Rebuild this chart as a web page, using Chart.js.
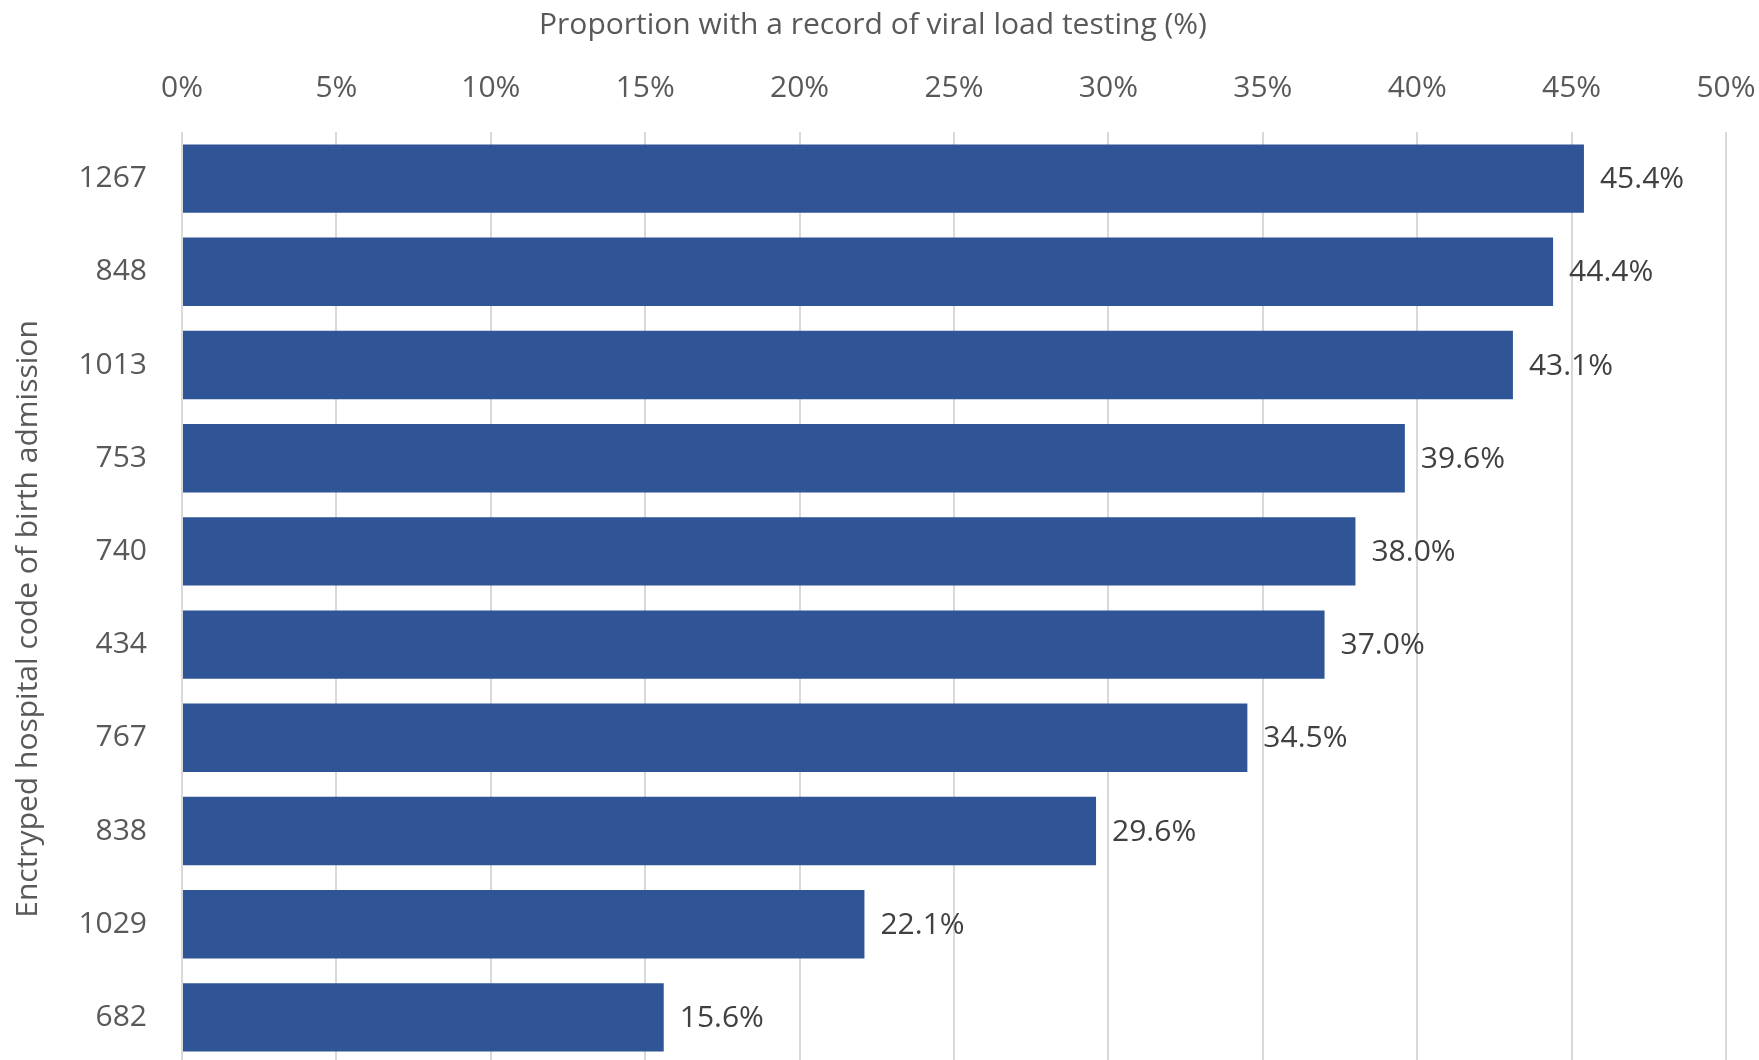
<!DOCTYPE html>
<html>
<head>
<meta charset="utf-8">
<script src="https://cdn.jsdelivr.net/npm/chart.js@4.4.1/dist/chart.umd.min.js"></script>
<style>
  html, body { margin: 0; padding: 0; background: #ffffff; overflow: hidden; }
  #wrap { width: 1759px; height: 1064px; }
</style>
</head>
<body>
<div id="wrap"><canvas id="c" width="1759" height="1064"></canvas></div>
<script>
const hospitalCodes = ['1267', '848', '1013', '753', '740', '434', '767', '838', '1029', '682'];
const viralLoadPct = [45.4, 44.4, 43.1, 39.6, 38.0, 37.0, 34.5, 29.6, 22.1, 15.6];
const xTickValues = [0, 5, 10, 15, 20, 25, 30, 35, 40, 45, 50];
const xTitle = 'Proportion with a record of viral load testing (%)';
const yTitle = 'Enctryped hospital code of birth admission';

const FONT = '"Open Sans", "DejaVu Sans", sans-serif';

const dataLabelPlugin = {
  id: 'dataLabels',
  afterDatasetsDraw(chart) {
    const ctx = chart.ctx;
    const meta = chart.getDatasetMeta(0);
    ctx.save();
    ctx.font = '30px ' + FONT;
    ctx.fillStyle = '#404040';
    ctx.textAlign = 'left';
    ctx.textBaseline = 'middle';
    meta.data.forEach((el, i) => {
      ctx.fillText(viralLoadPct[i].toFixed(1) + '%', el.x + 16, el.y + 1);
    });
    ctx.restore();
  }
};

const axisTitlePlugin = {
  id: 'axisTitles',
  afterDraw(chart) {
    const ctx = chart.ctx;
    ctx.save();
    ctx.fillStyle = '#595959';
    ctx.textAlign = 'center';
    ctx.textBaseline = 'middle';
    ctx.font = '30px ' + FONT;
    ctx.fillText(xTitle, 873, 25);
    ctx.translate(28, 619);
    ctx.rotate(-Math.PI / 2);
    ctx.fillText(yTitle, 0, 0);
    ctx.restore();
  }
};

new Chart(document.getElementById('c'), {
  type: 'bar',
  data: {
    labels: hospitalCodes,
    datasets: [{
      data: viralLoadPct,
      backgroundColor: '#2F5597',
      borderWidth: 0,
      categoryPercentage: 1.0,
      barPercentage: 0.734
    }]
  },
  options: {
    indexAxis: 'y',
    responsive: false,
    animation: false,
    layout: { padding: { left: 0, right: 33, top: 0, bottom: 0 } },
    plugins: { legend: { display: false }, tooltip: { enabled: false } },
    scales: {
      x: {
        position: 'top',
        min: 0,
        max: 50,
        afterBuildTicks(scale) { scale.ticks = xTickValues.map(v => ({ value: v })); },
        afterFit(scale) {
          scale.height = 132;
          scale.paddingLeft = 0; scale.paddingRight = 0;
          scale.paddingTop = 0; scale.paddingBottom = 0;
        },
        ticks: {
          padding: 26,
          color: '#595959',
          font: { family: FONT, size: 30 },
          callback: (v) => v + '%'
        },
        grid: { color: '#D9D9D9', lineWidth: 2, drawTicks: false },
        border: { display: false },
        title: { display: false, text: xTitle }
      },
      y: {
        afterFit(scale) {
          scale.width = 182;
          scale.paddingLeft = 0; scale.paddingRight = 0;
          scale.paddingTop = 0; scale.paddingBottom = 0;
        },
        ticks: {
          padding: 35,
          color: '#595959',
          font: { family: FONT, size: 30 }
        },
        grid: { display: false, drawTicks: false },
        border: { display: false },
        title: { display: false, text: yTitle }
      }
    }
  },
  plugins: [dataLabelPlugin, axisTitlePlugin]
});
</script>
</body>
</html>
